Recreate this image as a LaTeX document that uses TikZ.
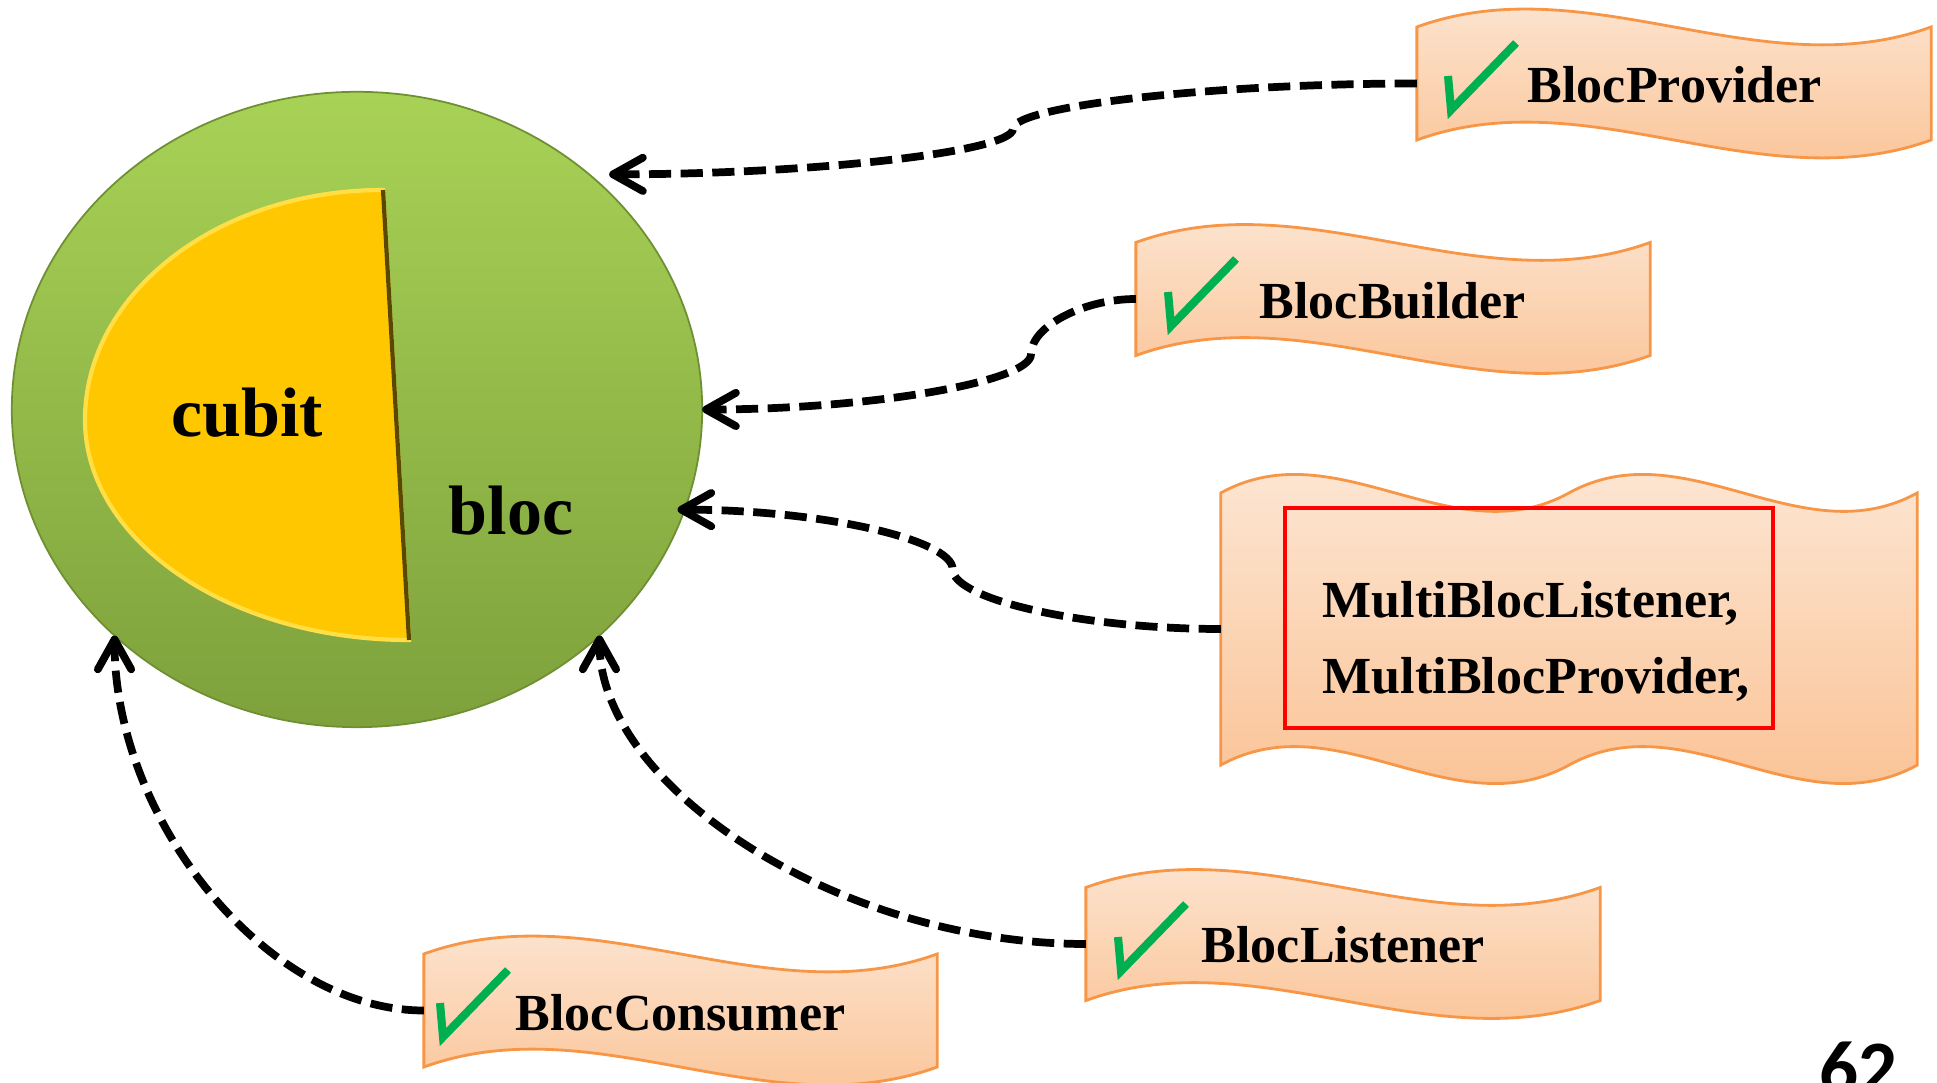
\documentclass[tikz,border=0pt]{standalone}
\usepackage{fontspec}
\setmainfont{Liberation Serif}
\newfontfamily\pagenumfont{Carlito}
\usetikzlibrary{shapes.geometric,arrows.meta,calc}

\definecolor{blocTop}{RGB}{168,210,86}
\definecolor{blocBottom}{RGB}{126,161,60}
\definecolor{blocRim}{RGB}{110,143,50}
\definecolor{cubitFill}{RGB}{255,199,0}
\definecolor{cubitRim}{RGB}{255,222,70}
\definecolor{cubitEdge}{RGB}{90,72,0}
\definecolor{waveTop}{RGB}{253,234,218}
\definecolor{waveBottom}{RGB}{250,191,143}
\definecolor{waveLine}{RGB}{247,150,70}
\definecolor{tickGreen}{RGB}{0,176,80}

\begin{document}
\begin{tikzpicture}[x=0.01cm, y=0.01cm,
	conn/.style={line width=2.2pt, dash pattern=on 6.3pt off 2.7pt,
		-{Straight Barb[length=8.5pt,width=9.5pt,round]}},
	wavebox/.style={inner sep=0pt, outer sep=0pt, minimum width=5.14cm, minimum height=1.13cm},
	wavefill/.style={draw=waveLine, line width=0.8pt, top color=waveTop, bottom color=waveBottom},
	lbl/.style={inner sep=0pt, anchor=base west, font=\fontsize{14.8}{21.6}\selectfont\bfseries},
	big/.style={inner sep=0pt, anchor=base, font=\fontsize{19.9}{24}\selectfont\bfseries},
	tick/.pic={\draw[tickGreen, line width=2.3pt, line join=miter] (0,0) -- (3,-34) -- (68,33);}]
	\useasboundingbox (0,0) rectangle (1937,1082);

	% bloc with cubit inside
	\node[ellipse, minimum width=6.9cm, minimum height=6.35cm, inner sep=0pt, outer sep=0pt,
		top color=blocTop, bottom color=blocBottom, draw=blocRim, line width=0.5pt] (bloc) at (357,672.5) {};
	\coordinate (ctop) at (383,892);
	\coordinate (cbot) at (409,442);
	\coordinate (cleft) at (85,662);
	\filldraw[fill=cubitFill, draw=cubitRim, line width=1.2pt] (ctop) -- (cbot)
		.. controls +(-179,0) and +(0,-121) .. (cleft)
		.. controls +(0,127) and +(-165,0) .. (ctop) -- cycle;
	\draw[cubitEdge, line width=1.2pt] (ctop) -- (cbot);
	\node[big] (cubit) at (247,645) {cubit};
	\node[big] (bloclbl) at (511,547) {bloc};

	% banners
	\node[wavebox] (bp) at (1674,998.5) {};
	\node[wavebox] (bb) at (1393,783) {};
	\node[wavebox] (bl) at (1343,138) {};
	\node[wavebox, minimum width=5.13cm] (bc) at (680.5,71.5) {};
	\node[wavebox, minimum width=6.96cm, minimum height=2.72cm] (mb) at (1569,453) {};
	\foreach \n in {bp,bb,bl,bc}
		\shade[wavefill] (\n.north west) .. controls +(171,62) and +(-171,-62) .. (\n.north east)
			-- (\n.south east) .. controls +(-171,-62) and +(171,62) .. (\n.south west) -- cycle;
	\shade[wavefill] (mb.north west) .. controls +(116,64) and +(-116,-64) .. (mb.north)
		.. controls +(116,64) and +(-116,-64) .. (mb.north east)
		-- (mb.south east) .. controls +(-116,-64) and +(116,64) .. (mb.south)
		.. controls +(-116,-64) and +(116,64) .. (mb.south west) -- cycle;

	\pic at (1448,1006) {tick};
	\pic at (1168,790) {tick};
	\pic at (1118,145) {tick};
	\pic at (440,79) {tick};
	\node[lbl] (bptxt) at (1527,979) {BlocProvider};
	\node[lbl] (bbtxt) at (1259,763) {BlocBuilder};
	\node[lbl] (bltxt) at (1201,120) {BlocListener};
	\node[lbl] (bctxt) at (515,52) {BlocConsumer};
	\node[draw=red, line width=1.3pt, minimum width=4.88cm, minimum height=2.2cm, inner sep=0pt] (mbred) at (1529,464) {};
	\node[lbl, anchor=west, align=left] (mbtxt) at (1322,441) {MultiBlocListener,\\MultiBlocProvider,};

	% connectors
	\coordinate (e1) at ($(bloc.center)!1.04!(bloc.43)$);
	\coordinate (k1) at ($(bp.west)!0.5!(e1)$);
	\draw[conn] (bp.west) .. controls +(-201,0) and +(0,23) .. (k1)
		.. controls +(0,-23) and +(201,0) .. (e1);
	\coordinate (k2) at ($(bb.west)!0.5!(bloc.east) + (112,0)$);
	\draw[conn] (bb.west) .. controls +(-52,0) and +(0,28) .. (k2)
		.. controls +(0,-28) and +(165,0) .. (bloc.east);
	\coordinate (k3) at ($(mb.west)!0.5!(bloc.343)$);
	\draw[conn, shorten >=-2pt] (mb.west) .. controls +(-138,0) and +(0,-30) .. (k3)
		.. controls +(0,30) and +(135,0) .. (bloc.343);
	\draw[conn] (bl.west) .. controls +(-243,0) and +(0,-154) .. (bloc.317);
	\draw[conn] (bc.west) .. controls +(-156,0) and +(0,-186) .. (bloc.223);

	% page number
	\node[inner sep=0pt, anchor=base west, font=\pagenumfont\fontsize{21.9}{26}\selectfont\bfseries] (pgnum) at (1819,-12) {62};
\end{tikzpicture}
\end{document}
